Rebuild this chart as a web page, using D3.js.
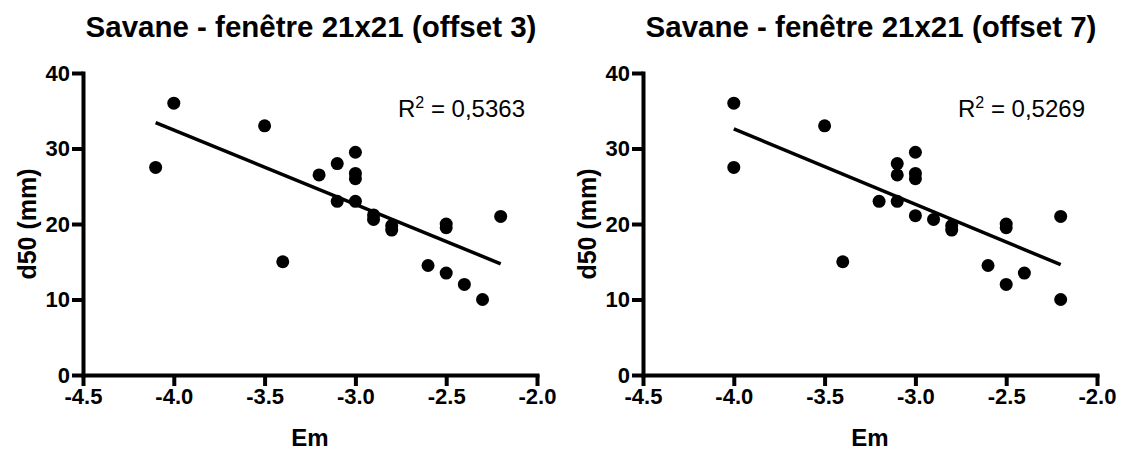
<!DOCTYPE html>
<html><head><meta charset="utf-8">
<script src="https://cdn.jsdelivr.net/npm/d3@7"></script>
<style>
body{margin:0;background:#fff}
text{font-family:"Liberation Sans",Arial,sans-serif;fill:#000}
</style>
</head><body>
<svg id="c" width="1121" height="450"></svg>
<script>
const xTicks = [-4.5, -4.0, -3.5, -3.0, -2.5, -2.0];
const yTicks = [0, 10, 20, 30, 40];
const titles = ["Savane - fenêtre 21x21 (offset 3)", "Savane - fenêtre 21x21 (offset 7)"];
const r2Labels = ["0,5363", "0,5269"];
const xLabel = "Em";
const yLabel = "d50 (mm)";

// offset 3
const em3  = [-4.1, -4.0, -3.5, -3.4, -3.2, -3.1, -3.1, -3.0, -3.0, -3.0, -3.0, -2.9, -2.9, -2.8, -2.8, -2.6, -2.5, -2.5, -2.5, -2.4, -2.3, -2.2];
const d503 = [27.5, 36.0, 33.0, 15.0, 26.5, 28.0, 23.0, 29.5, 26.7, 26.0, 23.0, 21.2, 20.6, 19.8, 19.2, 14.5, 20.0, 19.5, 13.5, 12.0, 10.0, 21.0];
// offset 7
const em7  = [-4.0, -4.0, -3.5, -3.4, -3.2, -3.1, -3.1, -3.1, -3.0, -3.0, -3.0, -3.0, -2.9, -2.8, -2.8, -2.6, -2.5, -2.5, -2.5, -2.4, -2.2, -2.2];
const d507 = [36.0, 27.5, 33.0, 15.0, 23.0, 28.0, 26.5, 23.0, 29.5, 26.7, 26.0, 21.1, 20.6, 19.8, 19.2, 14.5, 20.0, 19.5, 12.0, 13.5, 21.0, 10.0];

const svg = d3.select("#c");

function fit(xs, ys) {
  const mx = d3.mean(xs), my = d3.mean(ys);
  let sxy = 0, sxx = 0;
  xs.forEach((x, i) => { sxy += (x - mx) * (ys[i] - my); sxx += (x - mx) * (x - mx); });
  const b = sxy / sxx;
  return { b, a: my - b * mx };
}

function panel(ox, xs, ys, title, r2) {
  const g = svg.append("g").attr("transform", `translate(${ox},0)`);
  const x = d3.scaleLinear().domain([-4.5, -2.0]).range([83, 537]);
  const y = d3.scaleLinear().domain([0, 40]).range([375, 73]);

  g.append("text").attr("x", 311).attr("y", 37).attr("text-anchor", "middle")
    .attr("font-size", 29.5).attr("font-weight", "bold").text(title);

  const xa = g.append("g").attr("transform", "translate(0,375)")
    .call(d3.axisBottom(x).tickValues(xTicks).tickSize(11).tickSizeOuter(0).tickPadding(2)
      .tickFormat(d => d.toFixed(1)));
  const ya = g.append("g").attr("transform", "translate(83,0)")
    .call(d3.axisLeft(y).tickValues(yTicks).tickSize(11).tickSizeOuter(0).tickPadding(2)
      .tickFormat(d => String(d)));
  [xa, ya].forEach(a => {
    a.select(".domain").attr("stroke", "#000").attr("stroke-width", 4).attr("stroke-linecap", "square");
    a.selectAll(".tick line").attr("stroke", "#000").attr("stroke-width", 4);
    a.selectAll(".tick text").attr("font-size", 22).attr("font-weight", "bold")
      .attr("font-family", '"Liberation Sans",Arial,sans-serif').attr("fill", "#000");
  });

  g.append("text").attr("x", 310).attr("y", 446).attr("text-anchor", "middle")
    .attr("font-size", 24).attr("font-weight", "bold").text(xLabel);
  g.append("text").attr("transform", "translate(27,224) rotate(-90)").attr("dy", "0.35em")
    .attr("text-anchor", "middle").attr("font-size", 25).attr("font-weight", "bold").text(yLabel);

  const { a, b } = fit(xs, ys);
  const x0 = d3.min(xs), x1 = d3.max(xs);
  g.append("line").attr("x1", x(x0)).attr("y1", y(a + b * x0)).attr("x2", x(x1)).attr("y2", y(a + b * x1))
    .attr("stroke", "#000").attr("stroke-width", 3.5);

  g.selectAll("circle.pt").data(xs.map((v, i) => [v, ys[i]])).join("circle")
    .attr("class", "pt").attr("cx", d => x(d[0])).attr("cy", d => y(d[1])).attr("r", 6.5).attr("fill", "#000");

  const t = g.append("text").attr("x", 398).attr("y", 117).attr("font-size", 24);
  t.append("tspan").text("R");
  t.append("tspan").attr("font-size", 16).attr("dy", -9).text("2");
  t.append("tspan").attr("dy", 9).text(" = " + r2);
}

panel(0, em3, d503, titles[0], r2Labels[0]);
panel(560, em7, d507, titles[1], r2Labels[1]);
</script>
</body></html>
